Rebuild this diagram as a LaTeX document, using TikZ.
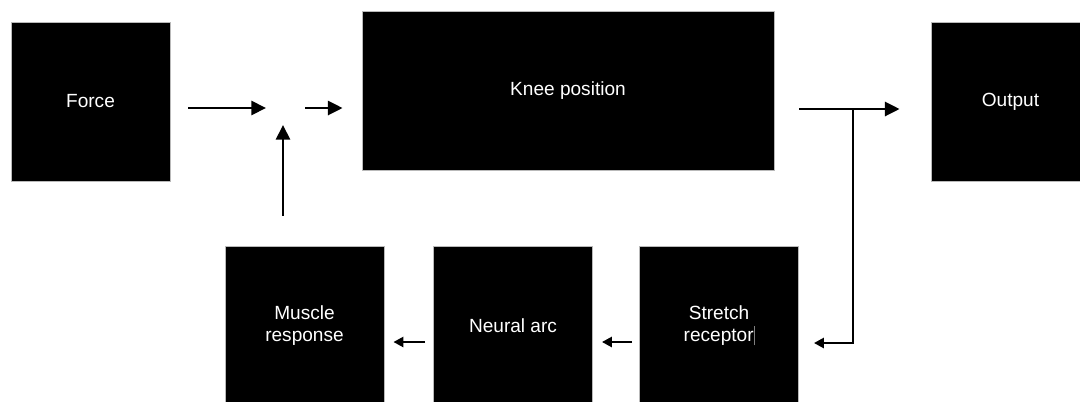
\documentclass[tikz,border=0pt]{standalone}
\usepackage{fontspec}
\setmainfont{Liberation Sans}
\usetikzlibrary{arrows.meta,calc}
\tikzset{
  blk/.style={draw=gray!55, line width=0.6pt, fill=black, text=white, minimum width=159*0.75pt, minimum height=159*0.75pt, inner sep=0pt, align=center, font=\fontsize{14.3pt}{16.5pt}\selectfont},
  arr/.style={line width=2.1pt, -{Triangle[length=11pt,width=10.5pt]}},
  sarr/.style={line width=2.1pt, -{Triangle[length=7.5pt,width=7.5pt]}},
}
\begin{document}
\begin{tikzpicture}[x=0.75pt,y=-0.75pt]
\useasboundingbox (0,0) rectangle (1080,401);
\clip (0,0) rectangle (1080,401);
\node[blk] (force) at (90.5,101.5) {Force};
\node[blk, minimum width=412*0.75pt] (knee) at (568,90.5) {\raisebox{-2pt}{Knee position}};
\node[blk] (output) at (1010.5,101.5) {Output};
\node[blk] (muscle) at (304.5,325.5) {Muscle\\response};
\node[blk] (neural) at (513,325.5) {Neural arc};
\node[blk] (stretch) at (719,325.5) {Stretch\\receptor\textcolor{gray}{\rule[-0.2em]{0.5pt}{1.0em}}};
\coordinate (sum) at (283,108);
\coordinate (br) at (853,109);
\coordinate (br2) at (853,343);
\coordinate (low) at (0,342);
\draw[arr, shorten <=18*0.75pt, shorten >=17*0.75pt] (force.east |- sum) -- (sum);
\draw[arr, shorten <=22*0.75pt, shorten >=19*0.75pt] (sum) -- (knee.west |- sum);
\draw[arr, shorten <=30*0.75pt, shorten >=17*0.75pt] (sum |- muscle.north) -- (sum);
\draw[arr, shorten <=25*0.75pt, shorten >=31*0.75pt] (knee.east |- br) -- (output.west |- br);
\draw[sarr, line join=miter] (br) -- (br2) -- ([xshift=15*0.75pt]stretch.east |- br2);
\draw[sarr, shorten <=7*0.75pt, shorten >=9*0.75pt] (stretch.west |- low) -- (neural.east |- low);
\draw[sarr, shorten <=8*0.75pt, shorten >=9*0.75pt] (neural.west |- low) -- (muscle.east |- low);
\end{tikzpicture}
\end{document}
